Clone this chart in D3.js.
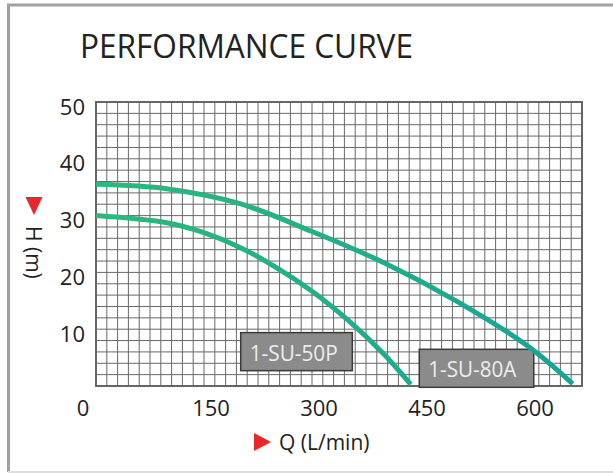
<!DOCTYPE html>
<html>
<head>
<meta charset="utf-8">
<script src="https://cdn.jsdelivr.net/npm/d3@7"></script>
<style>
  html, body { margin: 0; padding: 0; background: #fff; }
  svg { display: block; font-family: "Open Sans", "Noto Sans", sans-serif; }
</style>
</head>
<body>
<svg id="chart" width="613" height="473"></svg>
<script>
// Pumpen-Kennlinie: Förderhöhe H (m) über Fördermenge Q (L/min)

const xTicks = [0, 150, 300, 450, 600];
const yTicks = [10, 20, 30, 40, 50];

// 1-SU-80A (obere Kurve)
const q80A = [0, 100, 200, 300, 400, 500, 600, 662];
const h80A = [35.5, 34.7, 32.1, 27.2, 21.7, 15.0, 7.0, 0.4];

// 1-SU-50P (untere Kurve)
const q50P = [0, 100, 150, 200, 250, 300, 350, 400, 437];
const h50P = [30.0, 28.7, 27.0, 24.4, 20.9, 16.7, 11.6, 5.6, 0.3];

const seriesNames = ["1-SU-50P", "1-SU-80A"];

const svg = d3.select("#chart");

// Rahmen um das Bild
svg.append("path")
  .attr("d", "M8.5,472 V5 H613")
  .attr("fill", "none")
  .attr("stroke", "#a0a0a0")
  .attr("stroke-width", 3);
svg.append("line")
  .attr("x1", 8).attr("x2", 613)
  .attr("y1", 472).attr("y2", 472)
  .attr("stroke", "#dcdcdc")
  .attr("stroke-width", 2);

// Titel
svg.append("text")
  .attr("x", 80)
  .attr("y", 58)
  .attr("font-size", 32)
  .attr("fill", "#222")
  .attr("textLength", 333)
  .attr("lengthAdjust", "spacingAndGlyphs")
  .text("PERFORMANCE CURVE");

const plot = { left: 96, right: 582, top: 102, bottom: 386 };

const x = d3.scaleLinear().domain([0, 675]).range([plot.left, plot.right]);
const y = d3.scaleLinear().domain([0, 50]).range([plot.bottom, plot.top]);

// Raster
const grid = svg.append("g").attr("class", "grid");
grid.selectAll("line.v")
  .data(d3.range(15, 675, 15))
  .enter().append("line")
    .attr("class", "v")
    .attr("x1", d => x(d)).attr("x2", d => x(d))
    .attr("y1", plot.top).attr("y2", plot.bottom)
    .attr("stroke", "#686868")
    .attr("stroke-width", 1);
grid.selectAll("line.h")
  .data(d3.range(2, 50, 2))
  .enter().append("line")
    .attr("class", "h")
    .attr("x1", plot.left).attr("x2", plot.right)
    .attr("y1", d => y(d)).attr("y2", d => y(d))
    .attr("stroke", "#686868")
    .attr("stroke-width", 1);
grid.append("rect")
  .attr("x", plot.left).attr("y", plot.top)
  .attr("width", plot.right - plot.left)
  .attr("height", plot.bottom - plot.top)
  .attr("fill", "none")
  .attr("stroke", "#666")
  .attr("stroke-width", 2);

// Achsenbeschriftung
svg.append("g").selectAll("text")
  .data(yTicks)
  .enter().append("text")
    .attr("x", 85)
    .attr("y", d => y(d) + 3.5)
    .attr("text-anchor", "end")
    .attr("dominant-baseline", "central")
    .attr("font-size", 22)
    .attr("fill", "#222")
    .text(d => d);

svg.append("g").selectAll("text")
  .data(xTicks)
  .enter().append("text")
    .attr("x", d => d === 0 ? 83 : x(d) + 7)
    .attr("y", 407)
    .attr("text-anchor", "middle")
    .attr("dominant-baseline", "central")
    .attr("font-size", 22)
    .attr("fill", "#222")
    .text(d => d);

// X-Titel mit rotem Dreieck
svg.append("path")
  .attr("d", "M254,433 L271,442 L254,451 Z")
  .attr("fill", "#e8262b");
svg.append("text")
  .attr("x", 279)
  .attr("y", 442)
  .attr("dominant-baseline", "central")
  .attr("font-size", 21)
  .attr("fill", "#222")
  .text("Q (L/min)");

// Y-Titel (um 90° gedreht)
const yTitle = svg.append("g").attr("transform", "translate(34,197) rotate(90)");
yTitle.append("path")
  .attr("d", "M0,-8.5 L18,0 L0,8.5 Z")
  .attr("fill", "#e8262b");
yTitle.append("text")
  .attr("x", 29)
  .attr("y", 0)
  .attr("dominant-baseline", "central")
  .attr("font-size", 21)
  .attr("fill", "#222")
  .text("H (m)");

// Beschriftungskästen
const boxes = [
  { name: seriesNames[0], q0: 201, q1: 356, h0: 9.4, h1: 2.7 },
  { name: seriesNames[1], q0: 449, q1: 608, h0: 6.46, h1: -0.23 }
];
const boxG = svg.append("g").selectAll("g")
  .data(boxes)
  .enter().append("g");
boxG.append("rect")
  .attr("x", d => x(d.q0))
  .attr("y", d => y(d.h0))
  .attr("width", d => x(d.q1) - x(d.q0))
  .attr("height", d => y(d.h1) - y(d.h0))
  .attr("fill", "#8b8b8b")
  .attr("stroke", "#3a3a3a")
  .attr("stroke-width", 1.5);
boxG.append("text")
  .attr("x", d => x(d.q0) + 9)
  .attr("y", d => (y(d.h0) + y(d.h1)) / 2 + 1)
  .attr("dominant-baseline", "central")
  .attr("font-size", 21)
  .attr("fill", "#eeeeee")
  .attr("textLength", 88)
  .attr("lengthAdjust", "spacingAndGlyphs")
  .text(d => d.name);

// Kurven
const defs = svg.append("defs");
const grad = defs.append("linearGradient")
  .attr("id", "curveGrad")
  .attr("gradientUnits", "userSpaceOnUse")
  .attr("x1", plot.left).attr("x2", plot.right)
  .attr("y1", 0).attr("y2", 0);
grad.append("stop").attr("offset", "0%").attr("stop-color", "#2eb87b");
grad.append("stop").attr("offset", "100%").attr("stop-color", "#15a497");

const line = d3.line()
  .x(d => x(d[0]))
  .y(d => y(d[1]))
  .curve(d3.curveCatmullRom.alpha(0.5));

const curves = [d3.zip(q50P, h50P), d3.zip(q80A, h80A)];
svg.append("g").selectAll("path")
  .data(curves)
  .enter().append("path")
    .attr("d", line)
    .attr("fill", "none")
    .attr("stroke", "url(#curveGrad)")
    .attr("stroke-width", 5);
</script>
</body>
</html>
